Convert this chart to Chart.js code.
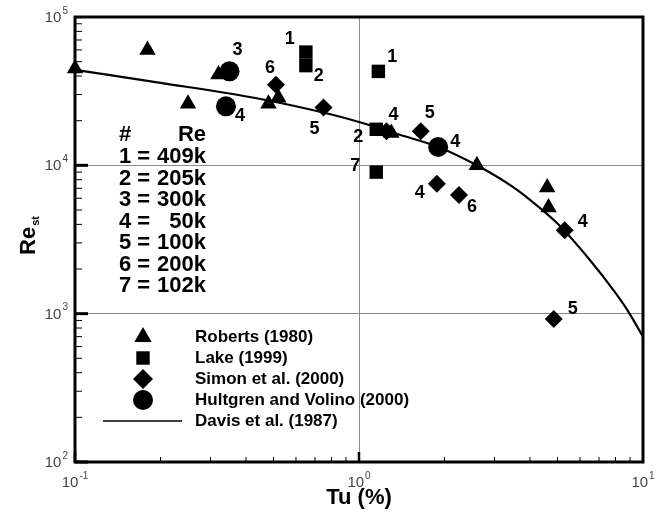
<!DOCTYPE html>
<html>
<head>
<meta charset="utf-8">
<script src="https://cdn.jsdelivr.net/npm/chart.js@4.4.0/dist/chart.umd.min.js"></script>
<style>
  html, body { margin: 0; padding: 0; background: #fff; }
</style>
</head>
<body>
<canvas id="chart" width="660" height="514"></canvas>
<script>
// ---------------- data block ----------------
const robertsTu = [0.1, 0.18, 0.25, 0.32, 0.48, 0.52, 1.3, 2.6, 4.6, 4.65];
const robertsRe = [45000, 60000, 26000, 41000, 26000, 28500, 16500, 10000, 7100, 5200];

const lakeTu = [0.65, 0.65, 1.17, 1.15, 1.15];
const lakeRe = [58000, 47000, 43000, 17500, 9000];
const lakeTags = ["1", "2", "1", "2", "7"];

const simonTu = [0.51, 0.75, 1.25, 1.65, 1.88, 2.25, 5.3, 4.85];
const simonRe = [35000, 24500, 17000, 17000, 7500, 6300, 3650, 920];
const simonTags = ["6", "5", "4", "5", "4", "6", "4", "5"];

const hultTu = [0.35, 0.34, 1.9];
const hultRe = [43000, 25000, 13300];
const hultTags = ["3", "4", "4"];

const davisTu = [0.1, 0.2, 0.45, 0.8, 1.0, 1.4, 1.9, 2.6, 3.5, 4.0, 5.0, 6.5, 8.0, 8.8, 10];
const davisRe = [44000, 36000, 28000, 22000, 19600, 16000, 13300, 10000, 7100, 5850, 4050, 2300, 1380, 1060, 700];

const caseIds = ["1", "2", "3", "4", "5", "6", "7"];
const caseRe = ["409k", "205k", "300k", "50k", "100k", "200k", "102k"];

const xTickExp = [-1, 0, 1];
const yTickExp = [2, 3, 4, 5];

const legendLabels = ["Roberts (1980)", "Lake (1999)", "Simon et al. (2000)", "Hultgren and Volino (2000)", "Davis et al. (1987)"];

// ---------------- style block ----------------
const FONT = '"Liberation Sans", Arial, sans-serif';
const lakeTagOff = [[-16, -13], [13, 10], [14, -14], [-18, 8], [-21, -6]];
const simonTagOff = [[-6, -17], [-9, 21], [7, -16], [9, -18], [-17, 9], [13, 12], [18, -8], [19, -10]];
const hultTagOff = [[8, -21], [14, 10], [17, -5]];

const pts = (xs, ys) => xs.map((x, i) => ({ x: x, y: ys[i] }));

const isDecade = v => Math.abs(Math.log10(v) - Math.round(Math.log10(v))) < 1e-6;

function marker(ctx, style, x, y, r) {
  ctx.beginPath();
  if (style === "triangle") {
    ctx.moveTo(x, y - r);
    ctx.lineTo(x + r * Math.sin(2 * Math.PI / 3), y + r / 2);
    ctx.lineTo(x - r * Math.sin(2 * Math.PI / 3), y + r / 2);
  } else if (style === "rect") {
    const s = r * Math.SQRT1_2;
    ctx.rect(x - s, y - s, 2 * s, 2 * s);
  } else if (style === "rectRot") {
    ctx.moveTo(x, y - r); ctx.lineTo(x + r, y); ctx.lineTo(x, y + r); ctx.lineTo(x - r, y);
  } else {
    ctx.arc(x, y, r, 0, Math.PI * 2);
  }
  ctx.closePath();
  ctx.fill();
}

function powLabel(ctx, exp, x, y, align) {
  const base = "10", sup = String(exp);
  ctx.font = "15px " + FONT;
  const wb = ctx.measureText(base).width;
  ctx.font = "10px " + FONT;
  const ws = ctx.measureText(sup).width;
  const x0 = align === "right" ? x - wb - ws - 1 : x - (wb + ws + 1) / 2;
  ctx.textAlign = "left";
  ctx.textBaseline = "middle";
  ctx.font = "15px " + FONT;
  ctx.fillText(base, x0, y);
  ctx.font = "10px " + FONT;
  ctx.fillText(sup, x0 + wb + 1, y - 7);
}

// ---------------- plugin: frame, ticks, texts ----------------
const decor = {
  id: "decor",
  afterDatasetsDraw(chart) {
    const ctx = chart.ctx;
    ctx.save();
    ctx.fillStyle = "#000";
    ctx.font = "bold 18px " + FONT;
    ctx.textAlign = "center";
    ctx.textBaseline = "middle";
    const tagSets = [[1, lakeTags, lakeTagOff], [2, simonTags, simonTagOff], [3, hultTags, hultTagOff]];
    tagSets.forEach(([di, tags, off]) => {
      const meta = chart.getDatasetMeta(di);
      meta.data.forEach((p, j) => {
        ctx.fillText(tags[j], p.x + off[j][0], p.y + off[j][1]);
      });
    });
    ctx.restore();
  },
  afterDraw(chart) {
    const ctx = chart.ctx;
    const { left, right, top, bottom } = chart.chartArea;
    const xs = chart.scales.x, ys = chart.scales.y;
    ctx.save();
    ctx.strokeStyle = "#000";

    // inward tick marks
    for (let d = -1; d < 1; d++) {
      for (let m = 1; m <= 9; m++) {
        const x = xs.getPixelForValue(m * Math.pow(10, d));
        const major = m === 1;
        ctx.lineWidth = major ? 2.5 : 1;
        ctx.beginPath();
        ctx.moveTo(x, bottom);
        ctx.lineTo(x, bottom - (major ? 10 : 5));
        ctx.stroke();
      }
    }
    for (let d = 2; d < 5; d++) {
      for (let m = 1; m <= 9; m++) {
        const y = ys.getPixelForValue(m * Math.pow(10, d));
        const major = m === 1;
        ctx.lineWidth = major ? 3 : 1;
        ctx.beginPath();
        ctx.moveTo(left, y);
        ctx.lineTo(left + (major ? 13 : 7), y);
        ctx.stroke();
      }
    }

    // frame
    ctx.lineWidth = 3;
    ctx.strokeRect(left, top, right - left, bottom - top);

    // tick labels
    ctx.fillStyle = "#444";
    xTickExp.forEach(e => powLabel(ctx, e, xs.getPixelForValue(Math.pow(10, e)), bottom + 21, "center"));
    yTickExp.forEach(e => powLabel(ctx, e, left - 7, ys.getPixelForValue(Math.pow(10, e)) + 1, "right"));

    // axis titles
    ctx.fillStyle = "#000";
    ctx.font = "bold 22px " + FONT;
    ctx.textAlign = "center";
    ctx.textBaseline = "middle";
    ctx.fillText("Tu (%)", (left + right) / 2, 498);

    ctx.save();
    ctx.translate(29, 236);
    ctx.rotate(-Math.PI / 2);
    ctx.font = "bold 22px " + FONT;
    const w1 = ctx.measureText("Re").width;
    ctx.font = "bold 11px " + FONT;
    const w2 = ctx.measureText("st").width;
    ctx.textAlign = "left";
    ctx.font = "bold 22px " + FONT;
    ctx.fillText("Re", -(w1 + w2) / 2, 0);
    ctx.font = "bold 11px " + FONT;
    ctx.fillText("st", -(w1 + w2) / 2 + w1 + 1, 7);
    ctx.restore();

    // case table
    ctx.font = "bold 22px " + FONT;
    ctx.textBaseline = "middle";
    ctx.textAlign = "left";
    ctx.fillText("#", 119, 135);
    ctx.textAlign = "right";
    ctx.fillText("Re", 206, 135);
    caseIds.forEach((id, i) => {
      const y = 157 + i * 21.5;
      ctx.textAlign = "left";
      ctx.fillText(id + " =", 119, y);
      ctx.textAlign = "right";
      ctx.fillText(caseRe[i], 206, y);
    });

    // legend
    const styles = ["triangle", "rect", "rectRot", "circle"];
    const radii = [10, 9.5, 10, 10];
    ctx.font = "bold 17px " + FONT;
    ctx.textAlign = "left";
    legendLabels.forEach((lab, i) => {
      const y = 337 + i * 21;
      if (i < 4) {
        marker(ctx, styles[i], 143, y, radii[i]);
      } else {
        ctx.lineWidth = 1.5;
        ctx.beginPath();
        ctx.moveTo(103, y);
        ctx.lineTo(182, y);
        ctx.stroke();
      }
      ctx.fillText(lab, 195, y);
    });
    ctx.restore();
  }
};

// ---------------- config block ----------------
const gridColor = c => (c.tick && isDecade(c.tick.value)) ? "#8a8a8a" : "rgba(0,0,0,0)";

const config = {
  type: "scatter",
  data: {
    datasets: [
      { label: legendLabels[0], data: pts(robertsTu, robertsRe), pointStyle: "triangle", pointRadius: 9.5,
        pointBackgroundColor: "#000", pointBorderWidth: 0, clip: false },
      { label: legendLabels[1], data: pts(lakeTu, lakeRe), pointStyle: "rect", pointRadius: 9.5,
        pointBackgroundColor: "#000", pointBorderWidth: 0, clip: false },
      { label: legendLabels[2], data: pts(simonTu, simonRe), pointStyle: "rectRot", pointRadius: 9,
        pointBackgroundColor: "#000", pointBorderWidth: 0, clip: false },
      { label: legendLabels[3], data: pts(hultTu, hultRe), pointStyle: "circle", pointRadius: 10,
        pointBackgroundColor: "#000", pointBorderWidth: 0, clip: false },
      { label: legendLabels[4], data: pts(davisTu, davisRe), showLine: true, pointRadius: 0,
        borderColor: "#000", borderWidth: 2.2, cubicInterpolationMode: "monotone" }
    ]
  },
  options: {
    responsive: false,
    animation: false,
    events: [],
    layout: { padding: { top: 17, right: 17, left: 0, bottom: 0 } },
    plugins: { legend: { display: false }, tooltip: { enabled: false } },
    scales: {
      x: {
        type: "logarithmic", min: 0.1, max: 10,
        border: { display: false },
        grid: { color: gridColor, lineWidth: 1, drawTicks: false },
        ticks: { display: false },
        afterFit(s) { s.height = 52; }
      },
      y: {
        type: "logarithmic", min: 100, max: 100000,
        border: { display: false },
        grid: { color: gridColor, lineWidth: 1, drawTicks: false },
        ticks: { display: false },
        afterFit(s) { s.width = 75; }
      }
    }
  },
  plugins: [decor]
};

const myChart = new Chart(document.getElementById("chart"), config);
</script>
</body>
</html>
